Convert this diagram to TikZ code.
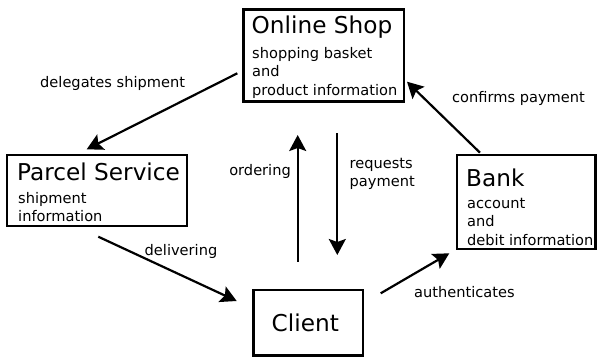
\documentclass[tikz,border=0pt]{standalone}
\usepackage{fontspec}
\setmainfont{DejaVu Sans}
\usetikzlibrary{arrows.meta}
\begin{document}
\begin{tikzpicture}[x=1pt,y=-1pt,
  box/.style={draw, line width=2.2pt, inner sep=0pt, outer sep=0pt, anchor=north west},
  title/.style={inner sep=0pt, anchor=base west, font=\fontsize{23.2}{28}\selectfont},
  desc/.style={inner sep=0pt, anchor=base west, align=left, font=\fontsize{14.6}{18.3}\selectfont},
  lbl/.style={inner sep=0pt, anchor=base west, align=left, font=\fontsize{14.6}{18.3}\selectfont},
  flow/.style={line width=2.2pt, -{Stealth[length=16pt,width=17pt,inset=3pt]}}]
\useasboundingbox (0,0) rectangle (597,357);

% boxes
\node[box, minimum width=160.5pt, minimum height=92pt] (shop) at (243.5,9.5) {};
\node[box, minimum width=180pt, minimum height=71pt] (parcel) at (7,155) {};
\node[box, minimum width=138.5pt, minimum height=94pt] (bank) at (457,155) {};
\node[box, minimum width=109.5pt, minimum height=65.5pt] (client) at (253.5,290) {};

% box contents (multi-line blocks are placed by their last baseline)
\node[title] (shopT) at (251.5,33.3) {Online Shop};
\node[desc] (shopD) at (252,95) {shopping basket\\and\\product information};
\node[title] (parcelT) at (17,180.7) {Parcel Service};
\node[desc] (parcelD) at (18,221.6) {shipment\\information};
\node[title] (bankT) at (466,186) {Bank};
\node[desc] (bankD) at (467,245) {account\\and\\debit information};
\node[title] (clientT) at (271.5,331) {Client};

% connector ends
\coordinate (dsA) at (237.3,73.3);  \coordinate (dsB) at (86.7,149.3);
\coordinate (dlA) at (98.3,236.7);  \coordinate (dlB) at (236.7,301);
\coordinate (orA) at (297.7,261.7); \coordinate (orB) at (297.7,135);
\coordinate (rpA) at (337.3,133.3); \coordinate (rpB) at (337.3,255);
\coordinate (auA) at (380.7,293.3); \coordinate (auB) at (449.3,253.3);
\coordinate (cpA) at (480,152.7);   \coordinate (cpB) at (407,81.7);

% connectors
\draw[flow] (dsA) -- (dsB);
\draw[flow] (dlA) -- (dlB);
\draw[flow] (orA) -- (orB);
\draw[flow] (rpA) -- (rpB);
\draw[flow] (auA) -- (auB);
\draw[flow] (cpA) -- (cpB);

% connector labels
\node[lbl] (dsL) at (40,87.3) {delegates shipment};
\node[lbl] (cpL) at (452,102.7) {confirms payment};
\node[lbl, anchor=base east] (orL) at (291,175) {ordering};
\node[lbl] (rpL) at (349.5,186.6) {requests\\payment};
\node[lbl] (dlL) at (144.5,255.7) {delivering};
\node[lbl] (auL) at (414,297.3) {authenticates};
\end{tikzpicture}
\end{document}
